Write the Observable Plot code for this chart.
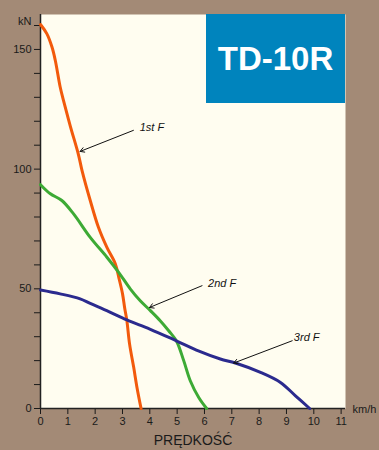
<!DOCTYPE html>
<html><head><meta charset="utf-8">
<script src="https://cdn.jsdelivr.net/npm/d3@7"></script>
<script src="https://cdn.jsdelivr.net/npm/@observablehq/plot@0.6"></script>
<style>
html,body{margin:0;padding:0;background:#A38A76;}
#wrap{position:relative;width:379px;height:450px;overflow:hidden;}
#badge{position:absolute;left:206px;top:14px;width:139px;height:89px;background:#0084BD;color:#fff;font:bold 33px "Liberation Sans",Arial,sans-serif;display:flex;align-items:center;justify-content:center;}
</style></head><body>
<div id="wrap"><div id="badge">TD-10R</div></div>
<script>
const title = "TD-10R";
const gears = ["1st F", "2nd F", "3rd F"];
const speed1 = [0, 0.23, 0.42, 0.54, 0.72, 0.84, 1.09, 1.39, 1.52, 1.82, 2.12, 2.43, 2.74, 2.88, 3.0, 3.08, 3.16, 3.26, 3.41, 3.53, 3.68];
const force1 = [160.4, 156.6, 151, 145.5, 134.3, 128.7, 118, 106, 99.4, 86.9, 75.7, 67.3, 60.4, 54, 48, 42, 36.7, 26.9, 17.2, 8.8, 0];
const speed2 = [0, 0.36, 0.78, 1.21, 1.82, 2.43, 2.86, 3.29, 3.65, 4.02, 4.38, 4.69, 4.97, 5.24, 5.48, 5.79, 6.08];
const force2 = [93.5, 89.7, 86.9, 81.3, 71.5, 63.2, 56.9, 49.9, 45, 40.9, 36.7, 32.5, 28.3, 20, 11.6, 4.6, 0];
const speed3 = [0, 0.72, 1.45, 1.82, 2.5, 3.16, 4.0, 4.97, 5.8, 6.58, 7.13, 8.05, 8.78, 9.33, 9.85];
const force3 = [49.5, 47.9, 45.8, 43.9, 40.5, 37, 33.2, 28.3, 24, 20.7, 19, 15.1, 10.9, 5.3, 0];
const xTicks = [0,1,2,3,4,5,6,7,8,9,10,11];
const yTicks = [0,10,20,30,40,50,60,70,80,90,100,110,120,130,140,150,160];
const yLabels = [0,50,100,150];
// annotation: label, text position, arrow start, arrow tip (data units)
const annLabel = ["1st F", "2nd F", "3rd F"];
const annTextX = [3.63, 6.13, 9.27];
const annTextY = [117.2, 52.2, 29.5];
const annFromX = [3.40, 5.91, 9.21];
const annFromY = [116.2, 51.3, 28.3];
const annToX = [1.45, 3.99, 7.07];
const annToY = [107.4, 42.2, 19.0];

const gearColors = ["#F25A0C", "#3DAA35", "#2B2A8E"];
const seriesS = [speed1, speed2, speed3];
const seriesF = [force1, force2, force3];
const rows = gears.flatMap((g, k) => seriesS[k].map((v, i) => ({gear: g, speed: v, force: seriesF[k][i]})));
const ann = annLabel.map((l, i) => ({label: l, tx: annTextX[i], ty: annTextY[i], x1: annFromX[i], y1: annFromY[i], x2: annToX[i], y2: annToY[i]}));

const chart = Plot.plot({
  width: 379, height: 450,
  marginLeft: 40, marginRight: 34, marginTop: 14, marginBottom: 42,
  style: {background: "transparent", fontFamily: '"Liberation Sans", Arial, sans-serif', fontSize: "11px", color: "#1a1a1a"},
  x: {domain: [0, 11.16]},
  y: {domain: [0, 164.6]},
  color: {domain: gears, range: gearColors},
  marks: [
    Plot.frame({fill: "#FFFDF0", stroke: null}),
    Plot.axisX({ticks: xTicks, tickSize: 6, tickPadding: 3, label: null, tickFormat: d => d}),
    Plot.axisY({ticks: yTicks, tickSize: 6, tickPadding: 3, label: null, tickFormat: d => yLabels.includes(d) ? d : ""}),
    Plot.ruleY([0], {stroke: "#222", strokeWidth: 1.5}),
    Plot.ruleX([0], {stroke: "#222", strokeWidth: 1.5}),
    Plot.line(rows, {x: "speed", y: "force", z: "gear", stroke: "gear", strokeWidth: 3, curve: "catmull-rom"}),
    Plot.arrow(ann, {x1: "x1", y1: "y1", x2: "x2", y2: "y2", stroke: "#111", strokeWidth: 1, headLength: 7}),
    Plot.text(ann, {x: "tx", y: "ty", text: "label", textAnchor: "start", fontStyle: "italic", fill: "#111"}),
    Plot.text(["kN"], {frameAnchor: "top-left", text: d => d, dx: -9, dy: 3, textAnchor: "end"}),
    Plot.text(["km/h"], {frameAnchor: "bottom-right", text: d => d, dx: 7, dy: 4, textAnchor: "start"}),
    Plot.text(["PRĘDKOŚĆ"], {frameAnchor: "bottom", text: d => d, dy: 36, fontSize: 14})
  ]
});
document.getElementById("wrap").prepend(chart);
document.getElementById("badge").textContent = title;
</script>
</body></html>
